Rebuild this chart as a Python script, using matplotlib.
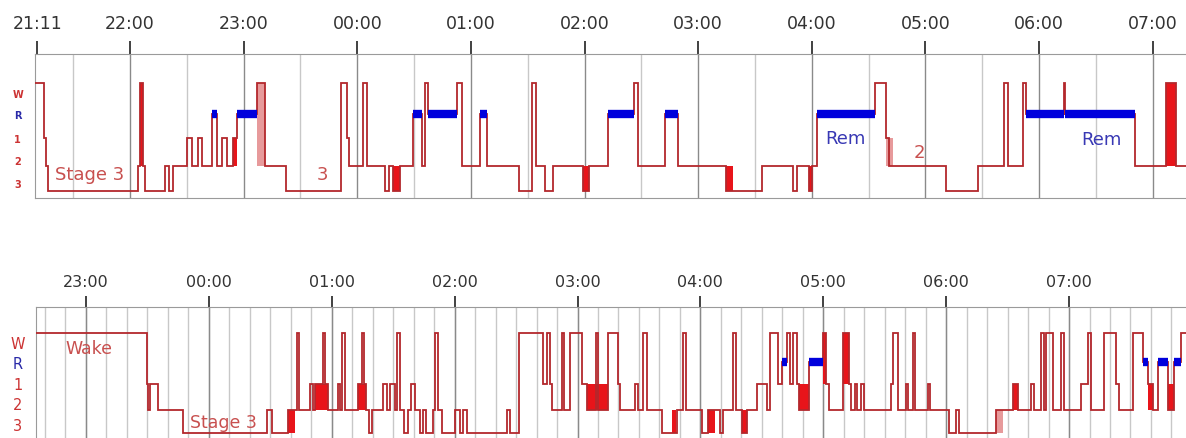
import matplotlib
matplotlib.use("Agg")
import matplotlib.pyplot as plt
import numpy as np

plt.rcParams['font.family'] = ['DejaVu Sans']

# times are minutes after 21:00, each value is the onset of a stage
top_onset = [9.8, 14.6, 15.6, 16.7, 64.2, 65.3, 66.9, 67.9, 78.5, 80.6,
             82.7, 90.1, 92.7, 95.9, 98.0, 103.3, 105.9, 108.6, 111.2, 114.4,
             116.5, 127.1, 131.3, 142.4, 171.4, 174.6, 175.6, 183.0, 185.1, 194.6,
             196.7, 198.9, 202.6, 209.4, 214.2, 215.8, 217.3, 232.6, 235.3, 244.8,
             248.5, 265.4, 272.3, 274.4, 279.1, 283.3, 299.2, 302.3, 312.4, 326.1,
             328.2, 342.5, 349.3, 374.7, 393.7, 410.1, 412.2, 418.5, 420.1, 422.7,
             453.3, 459.2, 460.7, 490.8, 507.7, 521.5, 523.6, 531.5, 533.1, 553.1,
             553.8, 590.6, 607.0, 612.3]
top_stage = ['W', '1', '2', '3', '2', 'W', '2', '3', '2', '3',
             '2', '1', '2', '1', '2', 'R', '2', '1', '2', '1',
             'R', 'W', '2', '3', 'W', '1', '2', 'W', '2', '3',
             '2', '3', '2', 'R', '2', 'W', 'R', 'W', '2', 'R',
             '2', '3', 'W', '2', '3', '2', '3', '2', 'R', 'W',
             '2', 'R', '2', '3', '2', '3', '2', '3', '2', 'R',
             'W', '1', '2', '3', '2', 'W', '2', 'W', 'R', 'W',
             'R', '2', 'W', '2']
top_end = 617.6
# dense stage switching shown as solid blocks: start, end, low, high, strong
top_bursts = [(65.3, 66.9, '2', 'W', 1), (114.4, 116.5, '2', '1', 1),
              (127.1, 131.3, '2', 'W', 0), (198.9, 202.6, '2', '3', 1),
              (299.2, 302.3, '2', '3', 1), (374.7, 378.4, '2', '3', 1),
              (418.5, 420.1, '2', '3', 1), (459.2, 462.9, '2', '1', 0),
              (607.0, 612.3, '2', 'W', 1)]

bot_onset = [95.6, 149.8, 150.3, 151.3, 155.2, 167.4, 208.4, 210.8, 218.6, 223.0,
             224.0, 229.4, 230.8, 231.8, 235.7, 236.7, 238.2, 243.0, 244.0, 245.0,
             246.5, 252.8, 254.8, 255.7, 256.7, 258.2, 259.6, 265.0, 267.0, 268.4,
             270.9, 271.9, 273.3, 275.3, 277.2, 278.7, 280.6, 283.1, 284.6, 286.0,
             289.4, 290.4, 291.9, 293.8, 300.2, 302.6, 304.1, 306.0, 325.6, 327.0,
             331.4, 343.1, 345.1, 346.6, 347.5, 352.4, 353.4, 356.3, 362.2, 364.6,
             369.0, 370.0, 374.9, 379.8, 380.7, 388.1, 389.5, 392.0, 393.9, 401.3,
             408.6, 411.5, 413.0, 420.8, 423.7, 429.6, 431.0, 435.9, 437.4, 440.3,
             442.8, 447.6, 452.5, 454.0, 457.9, 459.8, 462.3, 463.8, 465.2, 467.2,
             468.1, 473.0, 479.9, 481.3, 482.8, 489.6, 492.6, 493.5, 495.5, 496.5,
             498.4, 499.9, 513.1, 514.0, 516.5, 520.4, 521.4, 523.8, 524.8, 531.1,
             532.1, 541.4, 544.8, 546.3, 564.3, 567.8, 572.6, 575.1, 581.4, 582.9,
             586.3, 587.8, 588.8, 592.2, 596.1, 597.5, 605.8, 609.3, 610.7, 617.1,
             622.9, 624.4, 631.2, 636.1, 638.6, 641.0, 643.4, 648.3, 651.3, 654.7]
bot_stage = ['W', '1', '2', '1', '2', '3', '2', '3', '2', 'W',
             '2', '1', '2', '1', 'W', '1', '2', '1', '2', 'W',
             '2', '1', 'W', '1', '2', '3', '2', '1', '2', '1',
             '2', 'W', '2', '3', '2', '1', '2', '3', '2', '3',
             '2', 'W', '2', '3', '2', '3', '2', '3', '2', '3',
             'W', '1', 'W', '1', '2', 'W', '2', 'W', '1', '2',
             'W', '2', 'W', '1', '2', '1', '2', 'W', '2', '3',
             '2', 'W', '2', '3', '2', '3', '2', 'W', '2', '3',
             '2', '1', '2', 'W', '1', 'R', 'W', '1', 'W', '1',
             '2', 'R', 'W', '1', '2', 'W', '1', '2', '1', '2',
             '1', '2', '1', 'W', '2', '1', '2', 'W', '2', '1',
             '2', '3', '2', '3', '2', '2', '1', '2', '1', '2',
             'W', '2', 'W', '2', 'W', '2', '1', 'W', '2', 'W',
             '1', '2', 'W', 'R', '1', '2', 'R', '2', 'R', 'W']
bot_end = 657.1
bot_bursts = [(218.6, 222.1, '2', '3', 1), (231.8, 238.2, '2', '1', 1),
              (252.8, 256.7, '2', '1', 1), (364.6, 374.9, '2', '1', 1),
              (406.1, 408.1, '2', '3', 1), (423.7, 427.1, '2', '3', 1),
              (440.3, 442.8, '2', '3', 1), (468.1, 473.0, '2', '1', 1),
              (479.9, 481.3, '1', 'W', 1), (489.6, 492.6, '1', 'W', 1),
              (572.6, 575.1, '2', '1', 1), (638.6, 641.0, '2', '1', 1),
              (648.3, 651.3, '2', '1', 1), (564.3, 567.8, '2', '3', 0)]

top_ticks = [11, 60, 120, 180, 240, 300, 360, 420, 480, 540, 600]
top_labels = ['21:11', '22:00', '23:00', '00:00', '01:00', '02:00',
              '03:00', '04:00', '05:00', '06:00', '07:00']
bot_ticks = [120, 180, 240, 300, 360, 420, 480, 540, 600]
bot_labels = ['23:00', '00:00', '01:00', '02:00', '03:00', '04:00',
              '05:00', '06:00', '07:00']

stage_names = ['W', 'R', '1', '2', '3']
# height of each stage line and of its label, in axes fraction
level = {'W': 0.80, 'R': 0.58, '1': 0.415, '2': 0.222, '3': 0.048}
label_y = {'W': 0.72, 'R': 0.575, '1': 0.41, '2': 0.258, '3': 0.10}

LINE = '#b3272c'
BURST = '#e8141a'
PINK = '#e79a9b'
BLUE = '#0000dc'
TXT = '#c8504f'
REMTXT = '#3838b4'


def draw_panel(ax, onset, stages, end, bursts, ticks, labels, minor, small):
    edges = list(onset) + [end]
    vals = [level[s] for s in stages]
    for lo, hi, a, b, strong in bursts:
        ax.fill_between([lo, hi], level[a], level[b],
                        color=BURST if strong else PINK, lw=0, zorder=3)
    ax.stairs(vals, edges, baseline=None, color=LINE, lw=1.3, zorder=4)
    for i, s in enumerate(stages):
        if s == 'R':
            ax.plot([edges[i], edges[i + 1]], [level['R']] * 2, color=BLUE,
                    lw=6, solid_capstyle='butt', zorder=5)
    ax.set_xlim(onset[0], end)
    ax.set_ylim(0, 1)
    for t in minor:
        ax.axvline(t, color='#c8c8c8', lw=1, zorder=1)
    for t in ticks:
        if t % 60 == 0:
            ax.axvline(t, color='#8a8a8a', lw=1, zorder=1)
    ax.xaxis.tick_top()
    ax.set_xticks(ticks)
    if small:
        ax.set_xticklabels(labels, fontsize=12.5, color='#333333')
        ax.tick_params(axis='x', direction='out', length=9.5, width=1.3,
                       color='#333333', pad=6)
    else:
        ax.set_xticklabels(labels, fontsize=11.5, color='#333333')
        ax.tick_params(axis='x', direction='out', length=8, width=1.3,
                       color='#333333', pad=5)
    ax.set_yticks([])
    for sp in ax.spines.values():
        sp.set_color('#9a9a9a')
    ax.spines['right'].set_visible(False)
    for s in stage_names:
        c = '#2a2aa8' if s == 'R' else '#cc3333'
        if small:
            ax.text(-0.015, label_y[s], s, transform=ax.transAxes, ha='center',
                    va='center', fontsize=7, fontweight='bold', color=c)
        else:
            ax.text(-0.016, label_y[s], s, transform=ax.transAxes, ha='center',
                    va='center', fontsize=10.5, color=c)


fig = plt.figure(figsize=(11.86, 4.39), dpi=100)
ax1 = fig.add_axes([35 / 1186, 1 - 199 / 439, 1 - 35 / 1186, 144 / 439])
ax2 = fig.add_axes([36 / 1186, -1 / 439, 1 - 36 / 1186, 132 / 439])

draw_panel(ax1, top_onset, top_stage, top_end, top_bursts, top_ticks,
           top_labels, np.arange(30, 600, 60), True)
draw_panel(ax2, bot_onset, bot_stage, bot_end, bot_bursts, bot_ticks,
           bot_labels, np.arange(100, 660, 10), False)

ax1.text(20.5, 0.165, 'Stage 3', color=TXT, fontsize=13, va='center')
ax1.text(158.5, 0.165, '3', color=TXT, fontsize=13, va='center')
ax1.text(438, 0.42, 'Rem', color=REMTXT, fontsize=13, va='center', ha='center')
ax1.text(474, 0.32, '2', color=TXT, fontsize=13, va='center')
ax1.text(573, 0.41, 'Rem', color=REMTXT, fontsize=13, va='center', ha='center')
ax2.text(110, 0.69, 'Wake', color=TXT, fontsize=12.5, va='center')
ax2.text(171, 0.13, 'Stage 3', color=TXT, fontsize=12.5, va='center')

fig.savefig('out.png', dpi=100)
